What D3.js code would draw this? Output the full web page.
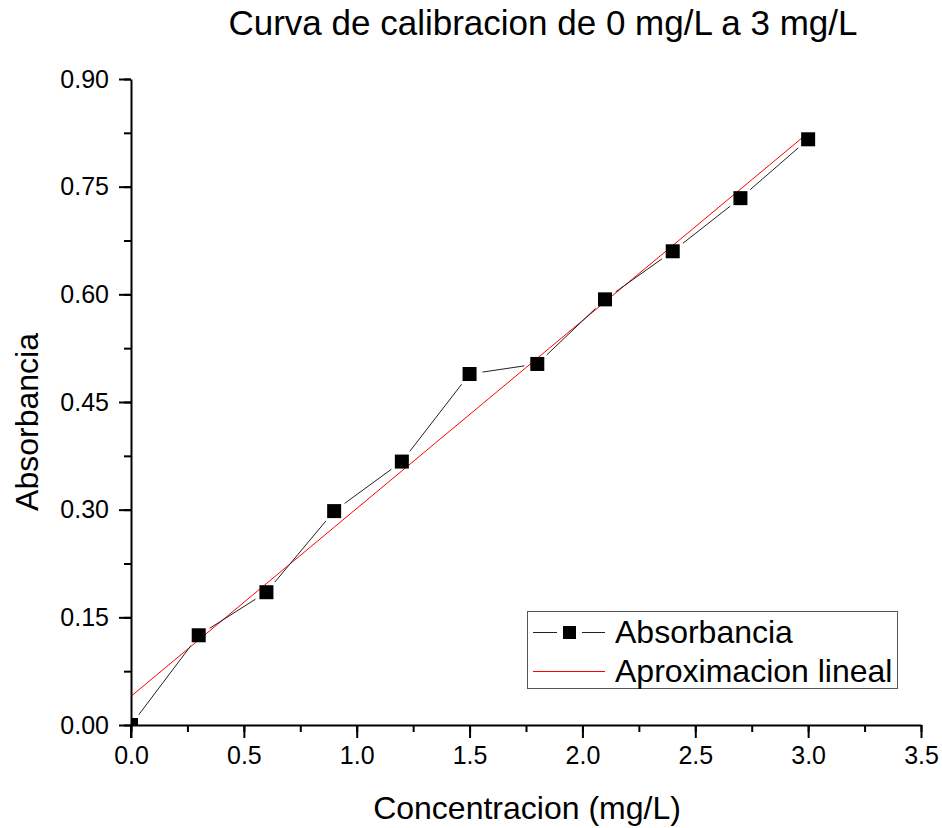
<!DOCTYPE html>
<html>
<head>
<meta charset="utf-8">
<script src="https://cdn.jsdelivr.net/npm/d3@7"></script>
<style>
  body { margin: 0; background: #fff; }
  text { font-family: "Liberation Sans", Arial, sans-serif; fill: #000; }
</style>
</head>
<body>
<div id="chart"></div>
<script>
// data
const concentracion = [0.0, 0.3, 0.6, 0.9, 1.2, 1.5, 1.8, 2.1, 2.4, 2.7, 3.0];
const absorbancia = [0.000, 0.125, 0.185, 0.298, 0.367, 0.489, 0.503, 0.593, 0.660, 0.734, 0.816];
// linear fit end points
const fitX = [0.0, 3.0];
const fitY = [0.040, 0.825];
const xTicks = [0, 0.5, 1, 1.5, 2, 2.5, 3, 3.5];
const yTicks = [0, 0.15, 0.30, 0.45, 0.60, 0.75, 0.90];

const width = 942, height = 828;
const margin = {top: 79, right: 21, bottom: 103, left: 131};
const w = width - margin.left - margin.right;
const h = height - margin.top - margin.bottom;

const svg = d3.select("#chart").append("svg")
    .attr("width", width)
    .attr("height", height);

svg.append("rect").attr("width", width).attr("height", height).attr("fill", "#fff");

const g = svg.append("g")
    .attr("transform", `translate(${margin.left},${margin.top})`);

const x = d3.scaleLinear().domain([0, 3.5]).range([0, w]);
const y = d3.scaleLinear().domain([0, 0.9]).range([h, 0]);

svg.append("defs").append("clipPath").attr("id", "plot")
    .append("rect").attr("width", w).attr("height", h);

const plot = g.append("g").attr("clip-path", "url(#plot)");

// fit line
plot.append("line")
    .attr("x1", x(fitX[0])).attr("y1", y(fitY[0]))
    .attr("x2", x(fitX[1])).attr("y2", y(fitY[1]))
    .attr("stroke", "#ff0000")
    .attr("stroke-width", 1);

// data line with gaps around the markers
const gap = 13;
const pts = concentracion.map((c, i) => [x(c), y(absorbancia[i])]);
for (let i = 0; i < pts.length - 1; i++) {
    const [x1, y1] = pts[i], [x2, y2] = pts[i + 1];
    const len = Math.hypot(x2 - x1, y2 - y1);
    if (len <= 2 * gap) continue;
    const ux = (x2 - x1) / len, uy = (y2 - y1) / len;
    plot.append("line")
        .attr("x1", x1 + ux * gap).attr("y1", y1 + uy * gap)
        .attr("x2", x2 - ux * gap).attr("y2", y2 - uy * gap)
        .attr("stroke", "#222")
        .attr("stroke-width", 1);
}

const ms = 14;
plot.selectAll("rect.pt")
    .data(concentracion)
    .enter()
    .append("rect")
    .attr("class", "pt")
    .attr("x", d => x(d) - ms / 2)
    .attr("y", (d, i) => y(absorbancia[i]) - ms / 2)
    .attr("width", ms)
    .attr("height", ms)
    .attr("fill", "#000");

// minor ticks
const xMinor = d3.range(0, 3.5001, 0.25);
const yMinor = d3.range(0, 0.9001, 0.075);
g.append("g")
    .attr("transform", `translate(0,${h})`)
    .call(d3.axisBottom(x).tickValues(xMinor).tickSize(7).tickSizeOuter(0).tickFormat(""))
    .call(a => a.select(".domain").remove())
    .selectAll("line").attr("stroke-width", 2);
g.append("g")
    .call(d3.axisLeft(y).tickValues(yMinor).tickSize(7).tickSizeOuter(0).tickFormat(""))
    .call(a => a.select(".domain").remove())
    .selectAll("line").attr("stroke-width", 2);

// major axes
const xAxis = g.append("g")
    .attr("transform", `translate(0,${h})`)
    .call(d3.axisBottom(x).tickValues(xTicks).tickSize(13).tickSizeOuter(0).tickFormat(d3.format(".1f")));
const yAxis = g.append("g")
    .call(d3.axisLeft(y).tickValues(yTicks).tickSize(12).tickSizeOuter(0).tickFormat(d3.format(".2f")));

[xAxis, yAxis].forEach(a => {
    a.select(".domain").attr("stroke-width", 2);
    a.selectAll(".tick line").attr("stroke-width", 2);
    a.selectAll(".tick text")
        .style("font-family", '"Liberation Sans", Arial, sans-serif')
        .style("font-size", "25px")
        .attr("fill", "#000");
});
xAxis.selectAll(".tick text").attr("y", 21);
yAxis.selectAll(".tick text").attr("x", -22);

// extend axis lines to cover the tick crossings
g.append("line").attr("x1", 0).attr("x2", 0).attr("y1", h).attr("y2", h + 13)
    .attr("stroke", "#000").attr("stroke-width", 2);

// title and labels
svg.append("text")
    .attr("x", 543).attr("y", 35)
    .attr("text-anchor", "middle")
    .style("font-size", "35px")
    .text("Curva de calibracion de 0 mg/L a 3 mg/L");

svg.append("text")
    .attr("x", 527).attr("y", 819)
    .attr("text-anchor", "middle")
    .style("font-size", "32px")
    .text("Concentracion (mg/L)");

svg.append("text")
    .attr("transform", "translate(38,422) rotate(-90)")
    .attr("text-anchor", "middle")
    .style("font-size", "32px")
    .text("Absorbancia");

// legend
const legend = svg.append("g");
legend.append("rect")
    .attr("x", 527.5).attr("y", 611.5)
    .attr("width", 370).attr("height", 77)
    .attr("fill", "#fff")
    .attr("stroke", "#555")
    .attr("stroke-width", 1);
legend.append("line").attr("x1", 533).attr("x2", 557).attr("y1", 632.5).attr("y2", 632.5)
    .attr("stroke", "#222").attr("stroke-width", 1);
legend.append("line").attr("x1", 582).attr("x2", 605).attr("y1", 632.5).attr("y2", 632.5)
    .attr("stroke", "#222").attr("stroke-width", 1);
legend.append("rect").attr("x", 563).attr("y", 626).attr("width", 13).attr("height", 13).attr("fill", "#000");
legend.append("line").attr("x1", 533).attr("x2", 605).attr("y1", 671.5).attr("y2", 671.5)
    .attr("stroke", "#ff0000").attr("stroke-width", 1);
legend.append("text").attr("x", 615).attr("y", 643).style("font-size", "32px").text("Absorbancia");
legend.append("text").attr("x", 615).attr("y", 682).style("font-size", "32px").text("Aproximacion lineal");
</script>
</body>
</html>
